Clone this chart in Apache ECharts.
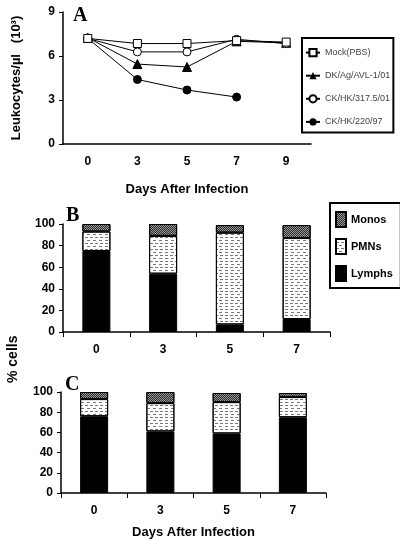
<!DOCTYPE html>
<html><head><meta charset="utf-8">
<script src="https://cdn.jsdelivr.net/npm/echarts@6/dist/echarts.min.js"></script>
<style>html,body{margin:0;padding:0;background:#fff}#c{width:400px;height:540px}</style>
</head><body><div id="c"></div>
<script>
// Panel A data
const daysA = ['0','3','5','7','9'];
const mockPBS = [7.2, 6.85, 6.85, 7.05, 6.95];
const dkAg = [7.25, 5.45, 5.25, 7.0, 6.9];
const ck3175 = [7.2, 6.28, 6.28, 7.14, 6.84];
const ck22097 = [7.2, 4.4, 3.68, 3.2, null];
const ticksA = [0, 3, 6, 9];
// Panel B data
const daysB = ['0','3','5','7'];
const lymphsB = [75, 54, 7, 12];
const pmnsB = [18, 35, 85, 75];
const monosB = [7, 11, 7, 12];
// Panel C data
const lymphsC = [76, 61, 59, 75];
const pmnsC = [17, 28, 31, 20];
const monosC = [7, 11, 9, 4];
const ticksPct = [0, 20, 40, 60, 80, 100];

const chart = echarts.init(document.getElementById('c'));
const lblStyle = {color:'#000', fontFamily:'Arial, Liberation Sans', fontWeight:'bold', fontSize:12};
const axLine = {show:true, lineStyle:{color:'#000', width:1.5}};
const pmnStyle = {color:'#fff', borderColor:'#000', borderWidth:1,
  decal:{symbol:'rect', symbolSize:1, color:'#777', dashArrayX:[[3,2],[0,2.5,3,0]], dashArrayY:[1,2], rotation:0}};
const monoStyle = {color:'#999', borderColor:'#000', borderWidth:1,
  decal:{symbol:'rect', symbolSize:1, color:'#2a2a2a', dashArrayX:[[1,1],[0,1,1,0]], dashArrayY:[1,0], rotation:0}};
const lymStyle = {color:'#000', borderColor:'#000', borderWidth:1};

function yPct(grid){
  return {type:'value', gridIndex:grid, min:0, max:100, interval:20,
    axisLine:axLine, axisTick:{show:true, length:4, lineStyle:{color:'#000'}},
    splitLine:{show:false}, axisLabel:Object.assign({margin:8}, lblStyle)};
}
function xCat(grid, extra){
  return Object.assign({type:'category', gridIndex:grid, data:daysB, boundaryGap:true,
    axisLine:axLine, axisTick:{show:true, length:5, lineStyle:{color:'#000'}},
    axisLabel:Object.assign({margin:12}, lblStyle)}, extra||{});
}

chart.setOption({
  animation:false,
  grid:[
    {left:63, top:12, width:248, height:132},
    {left:63, top:224, width:267, height:108},
    {left:61, top:392, width:265, height:106}
  ],
  xAxis:[
    {type:'category', gridIndex:0, data:daysA, boundaryGap:true,
     axisLine:axLine, axisTick:{show:false},
     axisLabel:Object.assign({margin:12}, lblStyle),
     name:'Days After Infection', nameLocation:'middle', nameGap:39,
     nameTextStyle:{color:'#000', fontFamily:'Arial, Liberation Sans', fontWeight:'bold', fontSize:13}},
    xCat(1),
    xCat(2, {name:'Days After Infection', nameLocation:'middle', nameGap:33,
     nameTextStyle:{color:'#000', fontFamily:'Arial, Liberation Sans', fontWeight:'bold', fontSize:13}})
  ],
  yAxis:[
    {type:'value', gridIndex:0, min:0, max:9, interval:3,
     axisLine:axLine, axisTick:{show:true, length:4, lineStyle:{color:'#000'}},
     splitLine:{show:false}, axisLabel:Object.assign({margin:8}, lblStyle),
     name:'Leukocytes/µl   (10³)', nameLocation:'middle', nameGap:40, nameRotate:90,
     nameTextStyle:{color:'#000', fontFamily:'Arial, Liberation Sans', fontWeight:'bold', fontSize:13}},
    yPct(1), yPct(2)
  ],
  legend:[
    {left:302, top:38, orient:'vertical', padding:[10,3,6,3], itemGap:14, itemWidth:14, itemHeight:9,
     borderColor:'#000', borderWidth:2, borderRadius:0,
     textStyle:{color:'#444', fontFamily:'Arial, Liberation Sans', fontSize:9},
     data:['Mock(PBS)','DK/Ag/AVL-1/01','CK/HK/317.5/01','CK/HK/220/97']},
    {left:330, top:203, orient:'vertical', padding:[8,8,6,5], itemGap:10, itemWidth:10, itemHeight:15,
     borderColor:'#000', borderWidth:2, borderRadius:0, icon:'rect',
     textStyle:{color:'#000', fontFamily:'Arial, Liberation Sans', fontWeight:'bold', fontSize:11},
     data:['Monos','PMNs','Lymphs']}
  ],
  graphic:[
    {type:'text', left:73, top:6, style:{text:'A', font:'bold 20px "Liberation Serif", serif', fill:'#000'}},
    {type:'text', left:66, top:206, style:{text:'B', font:'bold 20px "Liberation Serif", serif', fill:'#000'}},
    {type:'text', left:65, top:375, style:{text:'C', font:'bold 20px "Liberation Serif", serif', fill:'#000'}},
    {type:'text', x:6, y:383, rotation:Math.PI/2, style:{text:'% cells', font:'bold 14px Arial, "Liberation Sans"', fill:'#000'}}
  ],
  series:[
    {name:'CK/HK/220/97', type:'line', xAxisIndex:0, yAxisIndex:0, data:ck22097, symbol:'circle', symbolSize:8,
     lineStyle:{color:'#000', width:1}, itemStyle:{color:'#000', borderColor:'#000'}},
    {name:'DK/Ag/AVL-1/01', type:'line', xAxisIndex:0, yAxisIndex:0, data:dkAg, symbol:'triangle', symbolSize:9,
     lineStyle:{color:'#000', width:1}, itemStyle:{color:'#000', borderColor:'#000'}},
    {name:'CK/HK/317.5/01', type:'line', xAxisIndex:0, yAxisIndex:0, data:ck3175, symbol:'circle', symbolSize:8,
     showAllSymbol:true, lineStyle:{color:'#000', width:1}, itemStyle:{color:'#fff', borderColor:'#000', borderWidth:1}},
    {name:'Mock(PBS)', type:'line', xAxisIndex:0, yAxisIndex:0, data:mockPBS, symbol:'rect', symbolSize:8,
     lineStyle:{color:'#000', width:1}, itemStyle:{color:'#fff', borderColor:'#000', borderWidth:1}},

    {name:'Lymphs', type:'bar', stack:'b', xAxisIndex:1, yAxisIndex:1, data:lymphsB, barWidth:28, itemStyle:lymStyle},
    {name:'PMNs', type:'bar', stack:'b', xAxisIndex:1, yAxisIndex:1, data:pmnsB, barWidth:28, itemStyle:pmnStyle},
    {name:'Monos', type:'bar', stack:'b', xAxisIndex:1, yAxisIndex:1, data:monosB, barWidth:28, itemStyle:monoStyle},

    {name:'Lymphs', type:'bar', stack:'c', xAxisIndex:2, yAxisIndex:2, data:lymphsC, barWidth:28, itemStyle:lymStyle},
    {name:'PMNs', type:'bar', stack:'c', xAxisIndex:2, yAxisIndex:2, data:pmnsC, barWidth:28, itemStyle:pmnStyle},
    {name:'Monos', type:'bar', stack:'c', xAxisIndex:2, yAxisIndex:2, data:monosC, barWidth:28, itemStyle:monoStyle}
  ]
});
</script></body></html>
